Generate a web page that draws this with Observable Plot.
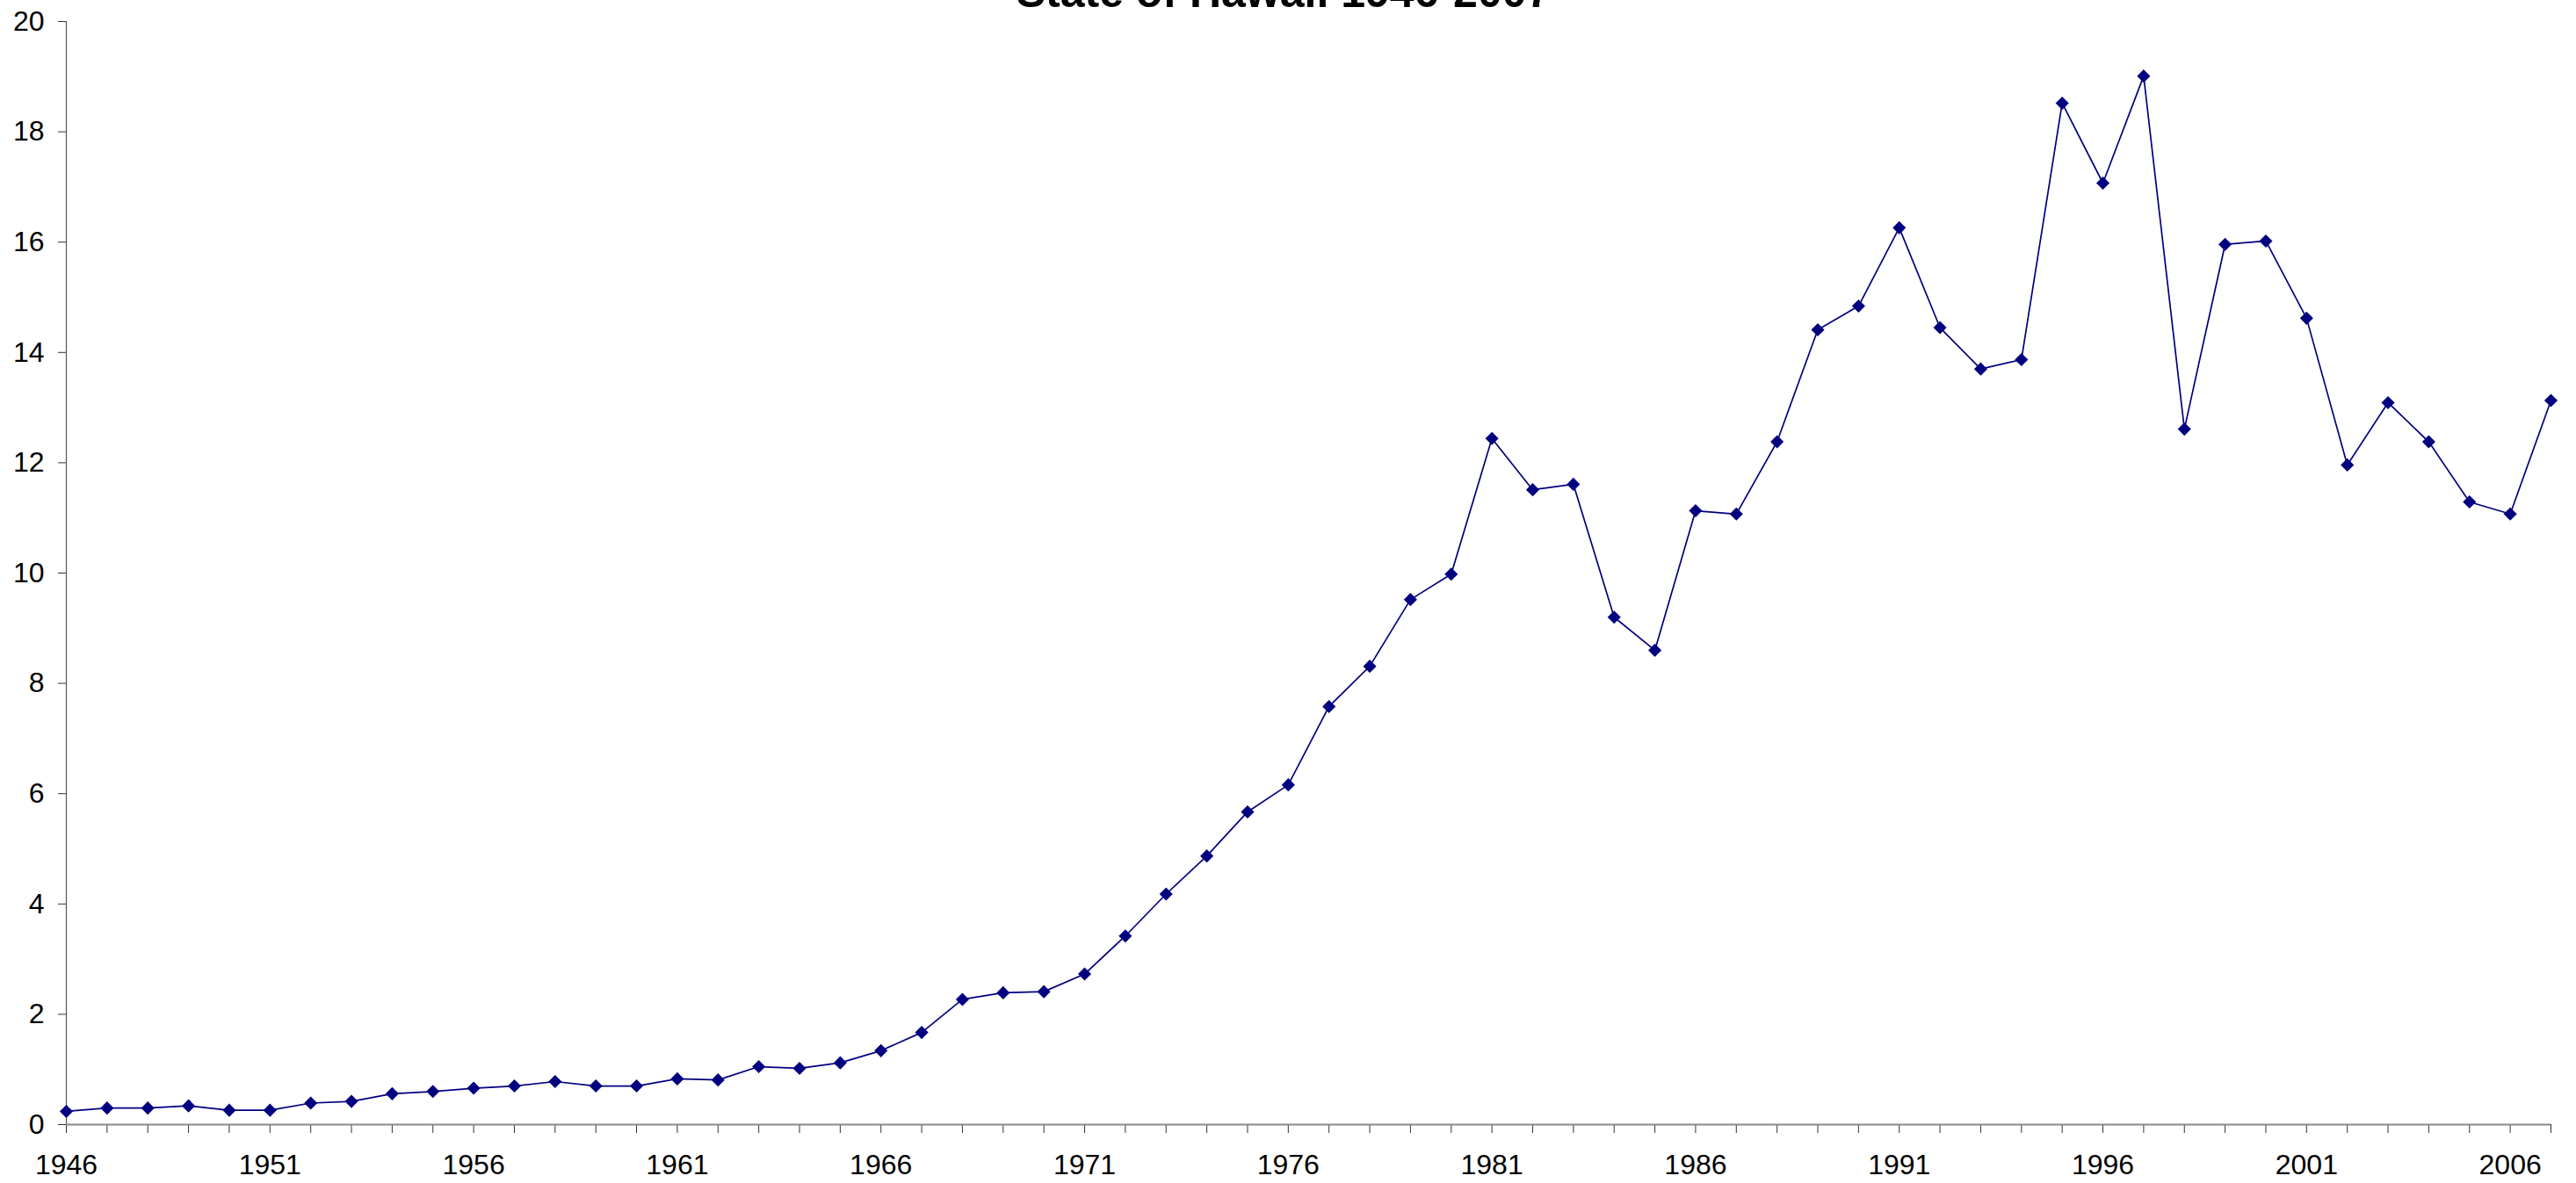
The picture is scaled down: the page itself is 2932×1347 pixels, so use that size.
<!DOCTYPE html>
<html>
<head>
<meta charset="utf-8">
<script src="https://cdn.jsdelivr.net/npm/d3@7"></script>
<script src="https://cdn.jsdelivr.net/npm/@observablehq/plot@0.6"></script>
<style>
  html, body { margin: 0; padding: 0; background: #fff; overflow: hidden; }
  #wrap { position: relative; width: 2932px; height: 1347px; }
  #title {
    position: absolute; left: 0; top: -34px; width: 2922px;
    text-align: center; font: bold 50px "Liberation Sans", Arial, sans-serif;
    line-height: 50px; color: #000; z-index: 2;
  }
  #chart { position: absolute; left: 0; top: 0; }
</style>
</head>
<body>
<div id="wrap">
  <div id="title">State of Hawaii 1946-2007</div>
  <div id="chart"></div>
</div>
<script>
const years = [
  1946, 1947, 1948, 1949, 1950, 1951, 1952, 1953, 1954, 1955,
  1956, 1957, 1958, 1959, 1960, 1961, 1962, 1963, 1964, 1965,
  1966, 1967, 1968, 1969, 1970, 1971, 1972, 1973, 1974, 1975,
  1976, 1977, 1978, 1979, 1980, 1981, 1982, 1983, 1984, 1985,
  1986, 1987, 1988, 1989, 1990, 1991, 1992, 1993, 1994, 1995,
  1996, 1997, 1998, 1999, 2000, 2001, 2002, 2003, 2004, 2005,
  2006, 2007
];
const values = [
  0.24, 0.30, 0.30, 0.34, 0.26, 0.26, 0.39, 0.42, 0.56, 0.60,
  0.66, 0.70, 0.78, 0.70, 0.70, 0.83, 0.81, 1.05, 1.02, 1.12,
  1.34, 1.67, 2.27, 2.39, 2.41, 2.73, 3.42, 4.18, 4.87, 5.67,
  6.16, 7.58, 8.31, 9.52, 9.98, 12.44, 11.51, 11.61, 9.20, 8.60,
  11.13, 11.07, 12.38, 14.41, 14.84, 16.26, 14.45, 13.70, 13.87, 18.52,
  17.07, 19.01, 12.61, 15.96, 16.02, 14.62, 11.96, 13.09, 12.38, 11.29,
  11.07, 13.13
];
const yTicks = [0, 2, 4, 6, 8, 10, 12, 14, 16, 18, 20];
const xLabelYears = [1946, 1951, 1956, 1961, 1966, 1971, 1976, 1981, 1986, 1991, 1996, 2001, 2006];

const data = years.map((y, i) => ({year: y, value: values[i]}));

const chart = Plot.plot({
  width: 2932,
  height: 1347,
  marginLeft: 75,
  marginRight: 29,
  marginTop: 24,
  marginBottom: 67,
  style: {fontFamily: '"Liberation Sans", Arial, sans-serif', fontSize: "32px", color: "#000", background: "#fff"},
  x: {domain: [1946, 2007], axis: null, label: null},
  y: {domain: [0, 20], axis: null, label: null},
  marks: [
    Plot.axisY({ticks: yTicks, tickSize: 9, tickPadding: 16, tickFormat: "d", fontSize: 32, stroke: "#333", strokeWidth: 1, label: null}),
    Plot.axisX({ticks: years, tickSize: 10, text: null, stroke: "#333", strokeWidth: 1, label: null}),
    Plot.axisX({ticks: xLabelYears, tickSize: 0, tickPadding: 34, tickFormat: "d", fontSize: 32, label: null}),
    Plot.ruleX([1946], {stroke: "#555", strokeWidth: 1.2}),
    Plot.ruleY([0], {stroke: "#888", strokeWidth: 2}),
    Plot.line(data, {x: "year", y: "value", stroke: "#000080", strokeWidth: 1.7}),
    Plot.dot(data, {x: "year", y: "value", symbol: "diamond2", r: 6.8, fill: "#000080", stroke: "none"})
  ]
});
document.getElementById("chart").appendChild(chart);
</script>
</body>
</html>
